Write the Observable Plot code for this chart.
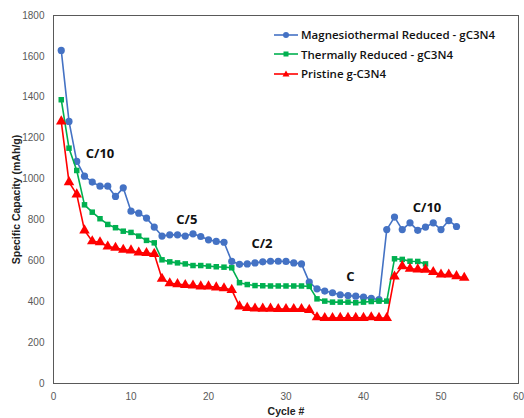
<!DOCTYPE html>
<html>
<head>
<meta charset="utf-8">
<script src="https://cdn.jsdelivr.net/npm/d3@7"></script>
<script src="https://cdn.jsdelivr.net/npm/@observablehq/plot@0.6"></script>
<style>
  body { margin: 0; background: #fff; }
  #wrap { position: relative; width: 524px; height: 418px; overflow: hidden; }
  #legend { position: absolute; left: 274px; top: 25px; font-family: "Open Sans", sans-serif; font-weight: 600; font-size: 11.5px; color: #111; }
  #legend .row { display: flex; align-items: center; height: 19.5px; }
  #legend svg { margin-right: 3px; }
</style>
</head>
<body>
<div id="wrap"></div>
<script>
const seriesNames = ["Magnesiothermal Reduced - gC3N4", "Thermally Reduced - gC3N4", "Pristine g-C3N4"];
const seriesColors = ["#4472C4", "#00B050", "#FF0000"];
const seriesSymbols = ["circle", "square", "triangle"];

const magnesioValues = [1629, 1282, 1086, 1014, 985, 965, 965, 915, 957, 843,
  833, 809, 765, 721, 727, 727, 721, 732, 719, 703,
  695, 691, 597, 583, 585, 590, 595, 598, 598, 597,
  590, 585, 496, 463, 452, 444, 434, 430, 427, 422,
  417, 410, 753, 814, 753, 786, 749, 765, 786, 753,
  797, 768];
const thermalValues = [1388, 1151, 1042, 874, 838, 806, 778, 762, 745, 739,
  721, 700, 688, 605, 595, 590, 585, 577, 577, 574,
  571, 569, 566, 493, 484, 479, 478, 477, 477, 477,
  477, 477, 475, 414, 403, 398, 398, 398, 395, 398,
  401, 403, 403, 610, 607, 598, 597, 585];
const pristineValues = [1282, 985, 925, 749, 696, 691, 670, 664, 654, 651,
  641, 638, 634, 512, 490, 486, 482, 479, 475, 475,
  470, 466, 458, 377, 370, 367, 366, 366, 364, 364,
  364, 364, 360, 324, 320, 320, 321, 321, 321, 321,
  324, 321, 320, 523, 574, 561, 558, 557, 545, 533,
  533, 525, 517];

const rateLabels = ["C/10", "C/5", "C/2", "C", "C/10"];
const rateX = [6.0, 17.2, 26.9, 38.3, 48.2];
const rateY = [1125, 802, 683, 523, 860];

const xTicks = [0, 10, 20, 30, 40, 50, 60];
const yTicks = [0, 200, 400, 600, 800, 1000, 1200, 1400, 1600, 1800];

const allSeries = [magnesioValues, thermalValues, pristineValues];
const data = allSeries.flatMap((vals, si) => vals.map((v, i) => ({cycle: i + 1, value: v, series: seriesNames[si]})));
const rates = rateLabels.map((t, i) => ({label: t, x: rateX[i], y: rateY[i]}));

const marks = [];
marks.push(Plot.frame({stroke: "#595959", strokeWidth: 1}));
marks.push(Plot.axisX({ticks: xTicks, tickFormat: d => String(d), tickSize: 0, tickPadding: 9, fontSize: 10, fill: "#595959", label: null}));
marks.push(Plot.axisY({ticks: yTicks, tickFormat: d => String(d), tickSize: 0, tickPadding: 9, fontSize: 10, fill: "#595959", label: null}));
marks.push(Plot.axisX({ticks: [], label: "Cycle #", labelAnchor: "center", labelArrow: "none", labelOffset: 31, fontSize: 10.5, fontWeight: "bold", fill: "#222"}));
marks.push(Plot.axisY({ticks: [], label: "Specific Capacity (mAh/g)", labelAnchor: "center", labelArrow: "none", labelOffset: 41, fontSize: 10.5, fontWeight: "bold", fill: "#222"}));
seriesNames.forEach((name, si) => {
  const d = data.filter(r => r.series === name);
  marks.push(Plot.line(d, {x: "cycle", y: "value", stroke: seriesColors[si], strokeWidth: 1.6}));
  marks.push(Plot.dot(d, {x: "cycle", y: "value", fill: seriesColors[si], symbol: seriesSymbols[si], r: si === 0 ? 3.6 : (si === 1 ? 3.1 : 3.9), stroke: "none"}));
});
marks.push(Plot.text(rates, {x: "x", y: "y", text: "label", fontSize: 13, fontWeight: "bold", fill: "#111", fontFamily: "Open Sans"}));

const chart = Plot.plot({
  width: 524,
  height: 418,
  marginLeft: 53,
  marginRight: 6,
  marginTop: 15,
  marginBottom: 35,
  style: {fontFamily: "Liberation Sans, sans-serif", background: "#fff"},
  x: {domain: [0, 60]},
  y: {domain: [0, 1800]},
  marks
});
document.getElementById("wrap").appendChild(chart);

const legend = document.createElement("div");
legend.id = "legend";
seriesNames.forEach((name, si) => {
  const row = document.createElement("div");
  row.className = "row";
  const sym = seriesSymbols[si] === "circle"
    ? `<circle cx="12" cy="5" r="3" fill="${seriesColors[si]}"/>`
    : seriesSymbols[si] === "square"
    ? `<rect x="9.5" y="2.5" width="5" height="5" fill="${seriesColors[si]}"/>`
    : `<path d="M12 1.5 L15.5 7.5 L8.5 7.5 Z" fill="${seriesColors[si]}"/>`;
  row.innerHTML = `<svg width="24" height="10"><line x1="0" x2="24" y1="5" y2="5" stroke="${seriesColors[si]}" stroke-width="1.6"/>${sym}</svg><span>${name}</span>`;
  legend.appendChild(row);
});
document.getElementById("wrap").appendChild(legend);
</script>
</body>
</html>
